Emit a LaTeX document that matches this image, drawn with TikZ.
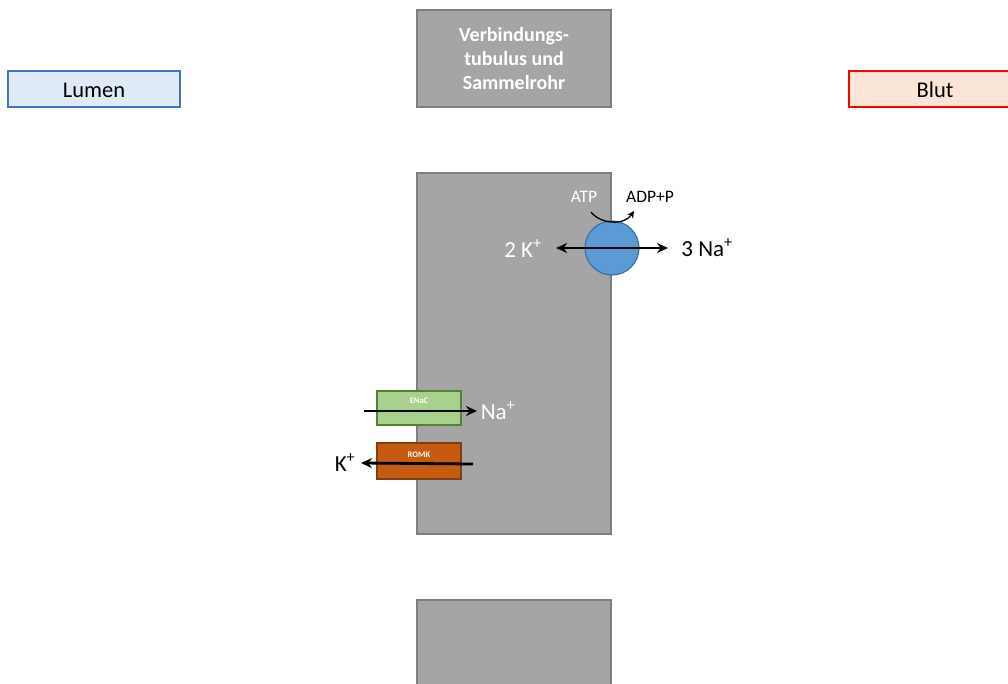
\documentclass[tikz,border=0pt]{standalone}
\usepackage{fontspec}
\setmainfont{Carlito}
\usetikzlibrary{arrows.meta}
\definecolor{cellgray}{HTML}{A5A5A5}
\definecolor{cellline}{HTML}{7F7F7F}
\definecolor{lumenfill}{HTML}{DEEBF7}
\definecolor{lumenline}{HTML}{4472C4}
\definecolor{blutfill}{HTML}{FBE5D6}
\definecolor{pumpfill}{HTML}{5B9BD5}
\definecolor{pumpline}{HTML}{41719C}
\definecolor{enacfill}{HTML}{A9D18E}
\definecolor{enacline}{HTML}{548235}
\definecolor{romkfill}{HTML}{C55A11}
\definecolor{romkline}{HTML}{843C0C}
\tikzset{
  cellbox/.style={draw=cellline, fill=cellgray, line width=1.2pt},
  labelbox/.style={line width=1.2pt, font=\fontsize{22.5}{26}\selectfont, inner sep=0pt},
  channel/.style={line width=1.2pt},
  flux/.style={line width=2.8pt, -{Stealth[length=11pt,width=10pt]}},
  ion/.style={font=\fontsize{23}{26}\selectfont, inner sep=1pt},
  small/.style={font=\fontsize{17.5}{20}\selectfont, inner sep=1pt},
  tiny/.style={font=\bfseries\fontsize{8.5}{9}\selectfont, text=white, inner sep=0pt}
}
\begin{document}
\begin{tikzpicture}[x=1pt, y=-1pt]
\useasboundingbox (0,0) rectangle (1008,684);

% tubule segments
\draw[cellbox] (417,10) rectangle (611,107);
\node[text=white, align=center, font=\bfseries\fontsize{20}{24}\selectfont] (title) at (514,59)
  {Verbindungs-\\tubulus und\\Sammelrohr};
\draw[cellbox] (417,173) rectangle (611,534);
\draw[cellbox] (417,600) rectangle (611,700);

% compartment labels
\draw[labelbox, draw=lumenline, fill=lumenfill] (8,71) rectangle (180,107);
\node[labelbox] (lumen) at (94,90) {Lumen};
\draw[labelbox, draw=red, fill=blutfill] (849,71) rectangle (1012,107);
\node[labelbox] (blut) at (935,90) {Blut};

% Na/K-ATPase
\node[circle, draw=pumpline, fill=pumpfill, line width=1.2pt, minimum size=54pt, inner sep=0pt] (pump) at (612,248) {};
\coordinate (kin) at (556,248);
\coordinate (naout) at (668,248);
\draw[line width=2.8pt, {Stealth[length=11pt,width=10pt]}-{Stealth[length=11pt,width=10pt]}] (kin) -- (naout);
\node[ion, text=white] (k2) at (523,249) {2 K\textsuperscript{+}};
\node[ion] (na3) at (707,248) {3 Na\textsuperscript{+}};
\node[small, text=white] (atp) at (584,197) {ATP};
\node[small] (adp) at (650,197) {ADP+P};
\coordinate (atpa) at (591,212);
\coordinate (atpb) at (634,211);
\draw[line width=1.3pt, -{Stealth[length=7pt,width=7pt]}] (atpa) .. controls (600,224) and (624,226) .. (atpb);

% ENaC
\node[channel, draw=enacline, fill=enacfill, minimum width=84pt, minimum height=34pt, inner sep=0pt] (enac) at (419,408) {};
\node[tiny] at (419,401) {ENaC};
\coordinate (enacin) at (364,411);
\coordinate (enacout) at (477,411);
\draw[flux] (enacin) -- (enacout);
\node[ion, text=white] (na1) at (498,411) {Na\textsuperscript{+}};

% ROMK
\node[channel, draw=romkline, fill=romkfill, minimum width=84pt, minimum height=36pt, inner sep=0pt] (romk) at (419,461) {};
\node[tiny] at (419,455) {ROMK};
\coordinate (romkin) at (473,464);
\coordinate (romkout) at (361,463);
\draw[flux] (romkin) -- (romkout);
\node[ion] (k1) at (345,463) {K\textsuperscript{+}};
\end{tikzpicture}
\end{document}
